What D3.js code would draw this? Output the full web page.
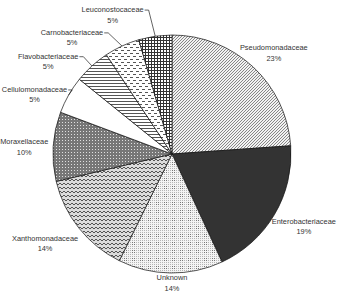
<!DOCTYPE html>
<html>
<head>
<meta charset="utf-8">
<script src="https://cdn.jsdelivr.net/npm/d3@7"></script>
<style>
  body { margin: 0; background: #fff; }
  svg text { font-family: "Liberation Sans", Arial, sans-serif; font-size: 7.4px; fill: #333; }
</style>
</head>
<body>
<div id="chart"></div>
<script>
let svgWidth = 353;
let svgHeight = 292;

// data, clockwise from 12 o'clock
let families = ["Pseudomonadaceae", "Enterobacteriaceae", "Unknown", "Xanthomonadaceae",
  "Moraxellaceae", "Cellulomonadaceae", "Flavobacteriaceae", "Carnobacteriaceae", "Leuconostocaceae"];
let shares = [23.9, 19.2, 14.2, 14.0, 9.4, 5.1, 4.9, 4.8, 4.5];
let pctLabels = ["23%", "19%", "14%", "14%", "10%", "5%", "5%", "5%", "5%"];

// label layout (polar, degrees from top, clockwise) and leader lines
let labelAngle = [45, 118.5, 180, 235, 273, 293.6, 307, 319.5, 337];
let labelRadius = [144, 150, 128, 155, 148, 150, 155, 154, 152];
let hasLeader = [false, false, false, false, false, true, true, true, true];

let cx = 172, cy = 154, radius = 119;

let svg = d3.select("#chart")
  .append("svg")
  .attr("width", svgWidth)
  .attr("height", svgHeight);

let defs = svg.append("defs");

function makePattern(id, w, h, build) {
  let p = defs.append("pattern")
    .attr("id", id)
    .attr("patternUnits", "userSpaceOnUse")
    .attr("width", w)
    .attr("height", h);
  build(p);
}

// Pseudomonadaceae - fine diagonal hatch
makePattern("p0", 3, 3, p => {
  p.append("rect").attr("width", 3).attr("height", 3).attr("fill", "#f2f2f2");
  p.append("path").attr("d", "M0,3 L3,0 M-1,1 L1,-1 M2,4 L4,2")
    .attr("stroke", "#7a7a7a").attr("stroke-width", 0.9);
});
// Unknown - light dotted grid
makePattern("p2", 8, 8, p => {
  p.append("rect").attr("width", 8).attr("height", 8).attr("fill", "#f4f4f4");
  for (let i = 0; i < 8; i += 2) {
    for (let j = 0; j < 8; j += 2) {
      let dark = (i < 4 && j < 4);
      p.append("rect").attr("x", i).attr("y", j).attr("width", 1).attr("height", 1)
        .attr("fill", dark ? "#777" : "#b5b5b5");
    }
  }
});
// Xanthomonadaceae - zigzag weave
makePattern("p3", 4, 4, p => {
  p.append("rect").attr("width", 4).attr("height", 4).attr("fill", "#dcdcdc");
  p.append("path").attr("d", "M0,1 L2,3 L4,1")
    .attr("stroke", "#555").attr("stroke-width", 1).attr("fill", "none");
});
// Moraxellaceae - gray with light dot grid
makePattern("p4", 3, 3, p => {
  p.append("rect").attr("width", 3).attr("height", 3).attr("fill", "#777");
  p.append("rect").attr("x", 1).attr("y", 1).attr("width", 1).attr("height", 1).attr("fill", "#e0e0e0");
});
// Flavobacteriaceae - horizontal lines
makePattern("p6", 4, 3, p => {
  p.append("rect").attr("width", 4).attr("height", 3).attr("fill", "#fff");
  p.append("rect").attr("y", 1).attr("width", 4).attr("height", 1).attr("fill", "#555");
});
// Carnobacteriaceae - staggered dashes
makePattern("p7", 6, 6, p => {
  p.append("rect").attr("width", 6).attr("height", 6).attr("fill", "#fff");
  p.append("rect").attr("x", 0).attr("y", 1).attr("width", 3).attr("height", 1).attr("fill", "#555");
  p.append("rect").attr("x", 3).attr("y", 4).attr("width", 3).attr("height", 1).attr("fill", "#555");
});
// Leuconostocaceae - square grid
makePattern("p8", 3, 3, p => {
  p.append("rect").attr("width", 3).attr("height", 3).attr("fill", "#fff");
  p.append("rect").attr("x", 0).attr("width", 1).attr("height", 3).attr("fill", "#333");
  p.append("rect").attr("y", 0).attr("width", 3).attr("height", 1).attr("fill", "#333");
});

let fills = ["url(#p0)", "#333", "url(#p2)", "url(#p3)", "url(#p4)", "#fff", "url(#p6)", "url(#p7)", "url(#p8)"];

let data = families.map((name, i) => ({ name: name, value: shares[i], pct: pctLabels[i], i: i }));

let pie = d3.pie().sort(null).value(d => d.value);
let arc = d3.arc().innerRadius(0).outerRadius(radius);
let arcs = pie(data);

let chartGroup = svg.append("g")
  .attr("transform", `translate(${cx}, ${cy})`);

chartGroup.selectAll(".slice")
  .data(arcs)
  .enter()
  .append("path")
  .attr("class", "slice")
  .attr("d", arc)
  .attr("fill", d => fills[d.data.i])
  .attr("stroke", "#111")
  .attr("stroke-width", 0.7);

// labels
let rad = Math.PI / 180;
let labels = chartGroup.selectAll(".lbl")
  .data(arcs)
  .enter()
  .append("g")
  .attr("class", "lbl")
  .attr("transform", d => {
    let a = labelAngle[d.data.i] * rad, r = labelRadius[d.data.i];
    return `translate(${r * Math.sin(a)}, ${-r * Math.cos(a)})`;
  });

labels.append("text")
  .attr("text-anchor", "middle")
  .attr("y", -2)
  .text(d => d.data.name);
labels.append("text")
  .attr("text-anchor", "middle")
  .attr("y", 8.5)
  .text(d => d.data.pct);

// leader lines for the small slices
labels.each(function(d) {
  if (!hasLeader[d.data.i]) return;
  let w = this.querySelector("text").getComputedTextLength();
  let a = labelAngle[d.data.i] * rad, r = labelRadius[d.data.i];
  let lx = r * Math.sin(a) + w / 2 + 1, ly = -r * Math.cos(a) - 4;
  let mid = (d.startAngle + d.endAngle) / 2;
  let ex = radius * Math.sin(mid), ey = -radius * Math.cos(mid);
  chartGroup.append("path")
    .attr("d", `M${lx},${ly} L${lx + 4},${ly} L${ex},${ey}`)
    .attr("fill", "none")
    .attr("stroke", "#222")
    .attr("stroke-width", 0.7);
});
</script>
</body>
</html>
